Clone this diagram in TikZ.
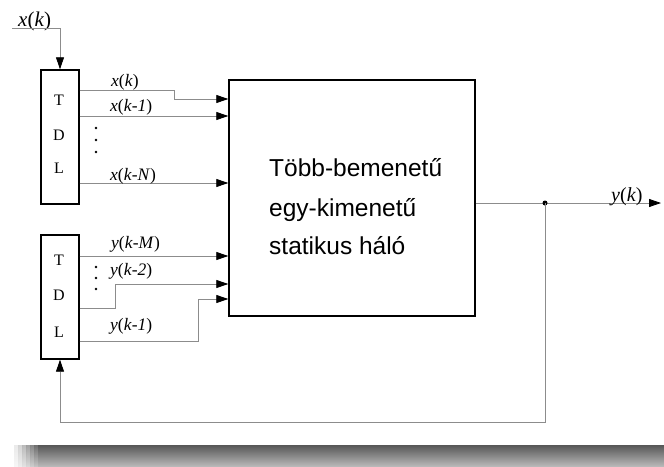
\documentclass[tikz,border=0pt]{standalone}
\usepackage{fontspec}
\setmainfont{Liberation Serif}
\newfontfamily\arialf{Liberation Sans}
\usetikzlibrary{arrows.meta}
\begin{document}
\begin{tikzpicture}[x=1pt,y=-1pt,
  blk/.style={draw=black, line width=1.4pt, fill=white, inner sep=0pt},
  conn/.style={draw=black!45, line width=0.8pt},
  arr/.style={-{Triangle[length=12pt,width=8pt,color=black]}},
  lbl/.style={font=\fontsize{17.5}{17.5}\selectfont, inner sep=0pt, anchor=base west},
  biglbl/.style={font=\fontsize{21}{21}\selectfont, inner sep=0pt, anchor=base west},
  tdl/.style={font=\fontsize{16}{16}\selectfont, inner sep=0pt},
  nettext/.style={font=\arialf\fontsize{24.5}{24.5}\selectfont, inner sep=0pt, anchor=base west},
  dotc/.style={fill=black, draw=none, circle, inner sep=0pt, minimum size=2.6pt}
]
\useasboundingbox (0,0) rectangle (664,466);
\fill[white] (0,0) rectangle (664,466);

% blocks
\node[blk, minimum width=38pt, minimum height=134pt] (tdla) at (60,137) {};
\node[blk, minimum width=38pt, minimum height=124pt] (tdlb) at (60,297) {};
\node[blk, minimum width=246pt, minimum height=236pt] (net) at (352,198) {};

% TDL letters
\node[tdl] (ta) at (59,100) {T};
\node[tdl] (da) at (59,135) {D};
\node[tdl] (la) at (59,168) {L};
\node[tdl] (tb) at (59,260) {T};
\node[tdl] (db) at (59,295) {D};
\node[tdl] (lb) at (59,332) {L};

% network text
\node[nettext] (n1) at (269,176) {Több-bemenetű};
\node[nettext] (n2) at (269,216) {egy-kimenetű};
\node[nettext] (n3) at (269,254) {statikus háló};

% input x(k)
\node[biglbl] (xk) at (18,26) {\textit{x}(\textit{k})};
\coordinate (xin) at (12,28);
\draw[conn,arr] (xin) -| (tdla.north);

% upper TDL outputs
\coordinate (b1) at (174,90);
\draw[conn,arr] (tdla.east |- b1) -- (b1) |- (net.west |- 0,99);
\draw[conn,arr] (tdla.east |- 0,116) -- (net.west |- 0,116);
\draw[conn,arr] (tdla.east |- 0,183) -- (net.west |- 0,183);
\node[lbl] (l1) at (111,86) {\textit{x}(\textit{k})};
\node[lbl] (l2) at (110,111) {\textit{x}(\textit{k}-\textit{1})};
\node[lbl] (l3) at (110,180) {\textit{x}(\textit{k}-\textit{N})};
\node[dotc] (d1) at (96,128) {};
\node[dotc] (d2) at (96,140) {};
\node[dotc] (d3) at (96,152) {};

% lower TDL outputs
\draw[conn,arr] (tdlb.east |- 0,256) -- (net.west |- 0,256);
\coordinate (b2) at (115,308);
\draw[conn,arr] (tdlb.east |- b2) -- (b2) |- (net.west |- 0,284);
\coordinate (b3) at (198,341);
\draw[conn,arr] (tdlb.east |- b3) -- (b3) |- (net.west |- 0,299);
\node[lbl] (l4) at (111,248) {\textit{y}(\textit{k}-\textit{M})};
\node[lbl] (l5) at (110,275) {\textit{y}(\textit{k}-\textit{2})};
\node[lbl] (l6) at (110,330) {\textit{y}(\textit{k}-\textit{1})};
\node[dotc] (d4) at (96,267) {};
\node[dotc] (d5) at (96,278) {};
\node[dotc] (d6) at (96,289) {};

% output and feedback
\coordinate (yout) at (661,203);
\draw[conn,arr] (net.east |- yout) -- (yout);
\node[dotc, minimum size=5pt] (j) at (545,203) {};
\node[biglbl, font=\fontsize{20}{20}\selectfont] (yk) at (611,201) {\textit{y}(\textit{k})};
\coordinate (fb) at (tdlb.south |- 0,422);
\draw[conn,arr] (j.center) |- (fb) -- (tdlb.south);

% bottom shadow bar
\shade[top color=black!66, bottom color=black!28] (38,445) rectangle (664,466);
\foreach \i/\o in {0/0.12,1/0.25,2/0.4,3/0.55,4/0.7,5/0.85}{
  \shade[top color=black!66, bottom color=black!28, opacity=\o]
    ({14+4*\i},445) rectangle ({18+4*\i},466);
}
\end{tikzpicture}
\end{document}
